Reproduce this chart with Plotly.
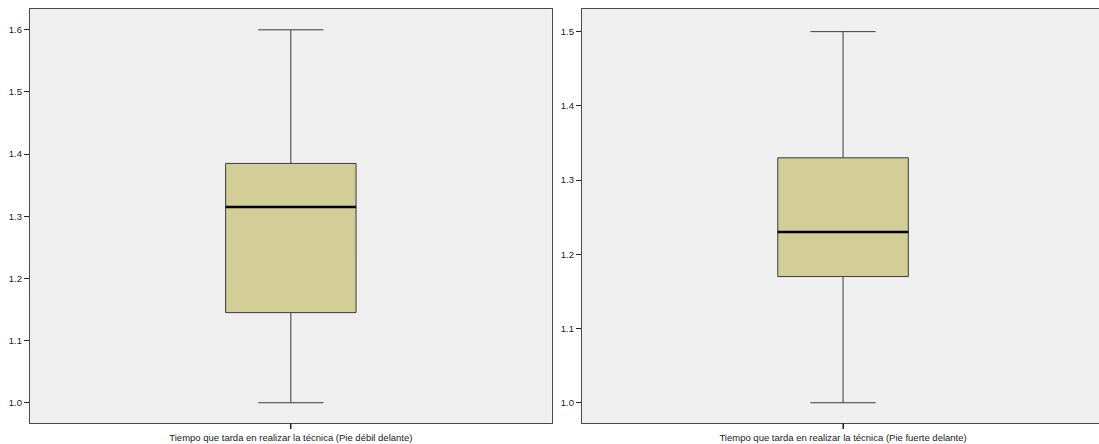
import plotly.graph_objects as go

# Data
categories = ["Tiempo que tarda en realizar la técnica (Pie débil delante)",
              "Tiempo que tarda en realizar la técnica (Pie fuerte delante)"]
mins = [1.0, 1.0]
q1s = [1.145, 1.17]
medians = [1.315, 1.23]
q3s = [1.385, 1.33]
maxs = [1.6, 1.5]
y_ticks = [[1.0, 1.1, 1.2, 1.3, 1.4, 1.5, 1.6], [1.0, 1.1, 1.2, 1.3, 1.4, 1.5]]
y_ranges = [[0.9674, 1.6335], [0.9727, 1.5305]]

W = 1099
H = 444
MT, MB = 9, 21
fig = go.Figure()

box_fill = "#d3ce97"
box_line = "#3a3a3a"
frame = "#4a4a4a"
font = dict(family="Liberation Sans, Arial, sans-serif", size=9.5, color="#1a1a1a")

for i, cat in enumerate(categories):
    xa = "x" if i == 0 else "x2"
    ya = "y" if i == 0 else "y2"
    fig.add_trace(go.Box(
        x=[cat], q1=[q1s[i]], median=[medians[i]], q3=[q3s[i]],
        lowerfence=[mins[i]], upperfence=[maxs[i]],
        fillcolor=box_fill, line=dict(color=box_line, width=1),
        width=1, whiskerwidth=0.5, boxpoints=False,
        xaxis=xa, yaxis=ya, showlegend=False, hoverinfo="skip",
    ))
    # thick black median line
    fig.add_shape(type="line", xref=xa, yref=ya,
                  x0=-0.5, x1=0.5, y0=medians[i], y1=medians[i],
                  line=dict(color="#000000", width=2.5))
    # category tick mark below the axis
    fig.add_shape(type="line", xref=xa, yref="paper",
                  x0=0, x1=0, y0=0, y1=-6 / (H - MT - MB),
                  line=dict(color="#222222", width=1.2), layer="above")

common_x = dict(type="category", showgrid=False, zeroline=False, showline=True,
                linecolor=frame, linewidth=1.3, ticks="outside", ticklen=5,
                tickwidth=1.2, tickcolor="#111111", tickfont=font, fixedrange=True,
                tickmode="array")
common_y = dict(showgrid=False, zeroline=False, showline=True, linecolor=frame,
                linewidth=1.3, ticks="outside", ticklen=5, tickwidth=1,
                tickcolor="#222222", tickfont=font, tickformat=".1f",
                fixedrange=True)

fig.update_layout(
    width=W, height=H,
    margin=dict(l=0, r=0, t=MT, b=MB),
    paper_bgcolor="white",
    plot_bgcolor="#efefef",
    xaxis=dict(common_x, domain=[30 / W, 551.7 / W], range=[-2, 2], mirror=True,
               anchor="y", tickvals=[categories[0]], ticktext=[categories[0]]),
    yaxis=dict(common_y, domain=[0, 1], range=y_ranges[0], tickvals=y_ticks[0],
               mirror=True, anchor="x"),
    xaxis2=dict(common_x, domain=[582 / W, 1.0], range=[-2, 1.961], mirror=True,
                anchor="y2", tickvals=[categories[1]], ticktext=[categories[1]]),
    yaxis2=dict(common_y, domain=[0, 1], range=y_ranges[1], tickvals=y_ticks[1],
                anchor="x2"),
)

fig.write_html("out.html")
